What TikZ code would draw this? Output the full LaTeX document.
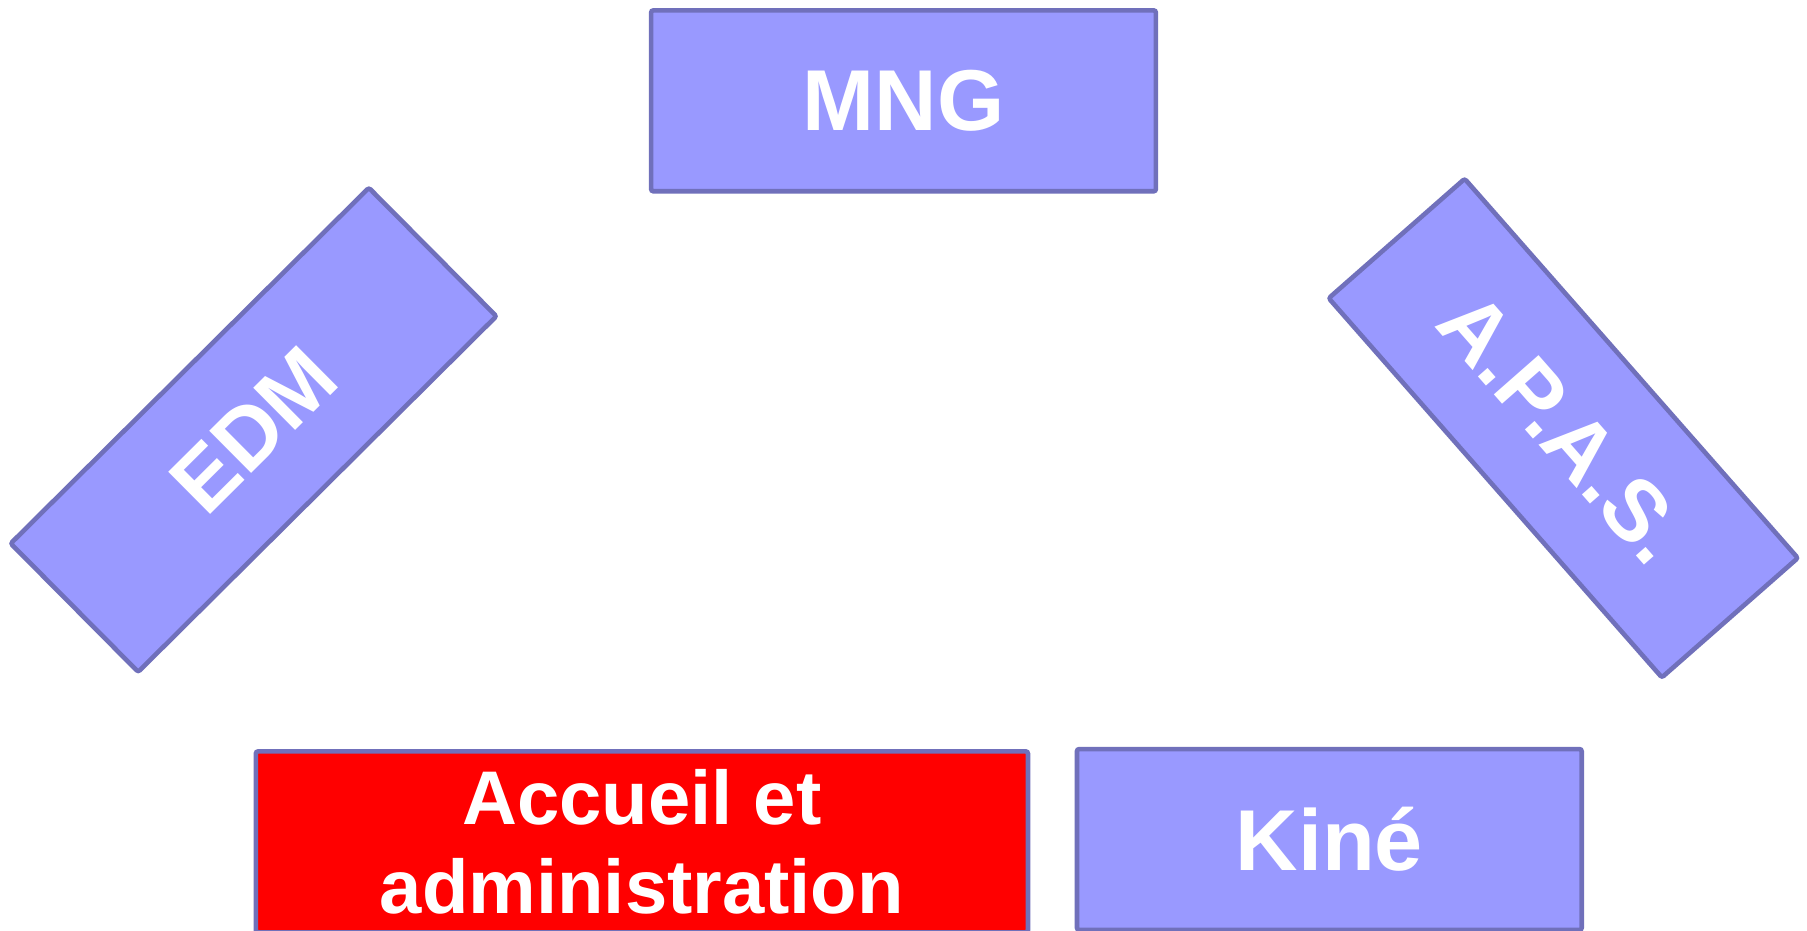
\documentclass[tikz,border=0pt]{standalone}
\usepackage{fontspec}
\setmainfont{Liberation Sans}
\definecolor{boxfill}{HTML}{9999FF}
\definecolor{boxline}{HTML}{7070BB}
\definecolor{redfill}{HTML}{FF0000}
\tikzset{
  box/.style={draw=boxline, fill=boxfill, line width=2pt, rounded corners=1pt,
    minimum width=219pt, minimum height=78.5pt, inner sep=0pt, text=white,
    font=\fontsize{37.5}{42}\selectfont\bfseries},
  redbox/.style={box, fill=redfill, minimum width=335pt,
    align=center, font=\fontsize{33}{39}\selectfont\bfseries}
}
\begin{document}
\begin{tikzpicture}[x=0.5pt,y=-0.5pt]
\useasboundingbox (0,0) rectangle (1568,807);
\clip (0,0) rectangle (1568,807);
\fill[white] (0,0) rectangle (1568,807);
\node[box] (mng) at (784,87.5) {MNG};
\node[box, rotate=44.8] (edm) at (220,373) {EDM};
\node[box, rotate=-48.7] (apas) at (1356.5,371.5) {A.P.A.S.};
\node[redbox] (accueil) at (557,730.5) {Accueil et\\administration};
\node[box] (kine) at (1153.5,728.5) {Kiné};
\end{tikzpicture}
\end{document}
